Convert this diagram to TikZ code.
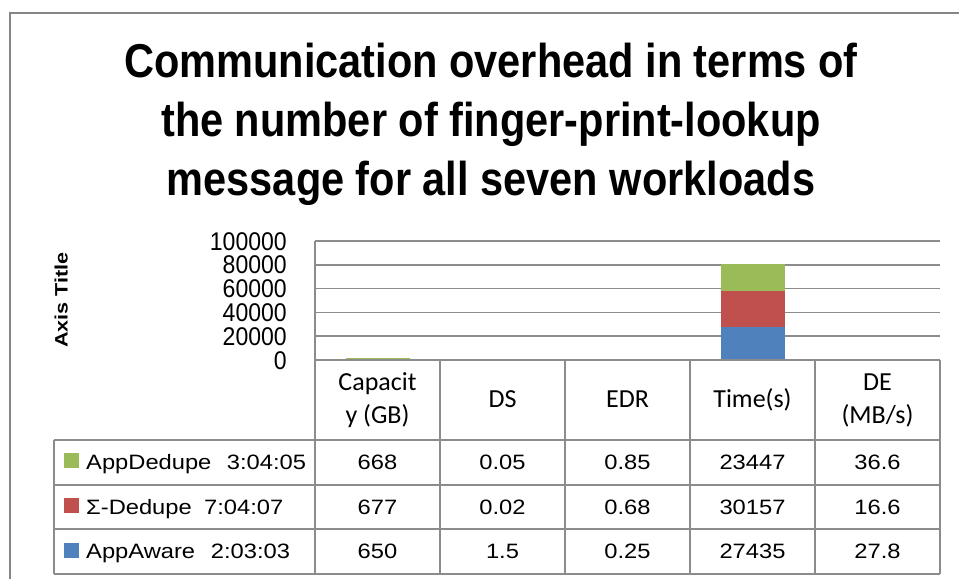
\documentclass[tikz,border=0pt]{standalone}
\usepackage{fontspec}
\setmainfont{Liberation Sans}
\newfontfamily\titlefont[FakeStretch=0.874]{Liberation Sans}
\newfontfamily\axtitlefont[FakeStretch=1.2]{Liberation Sans}
\newfontfamily\tickfont[FakeStretch=0.9]{Liberation Sans}
\newfontfamily\cellfont[FakeStretch=1.14]{Liberation Sans}
\newfontfamily\headfont{Carlito}

\definecolor{gridgray}{HTML}{8C8C8C}
\definecolor{framegray}{HTML}{868686}
\definecolor{serA}{HTML}{9BBB59}
\definecolor{serB}{HTML}{C0504D}
\definecolor{serC}{HTML}{4F81BD}

\begin{document}
\begin{tikzpicture}[x=1pt,y=-1pt,
  gridline/.style={draw=gridgray, line width=1.5pt},
  tableline/.style={draw=gridgray, line width=1.6pt},
  frameline/.style={draw=framegray, line width=2.2pt},
  titletext/.style={anchor=base, inner sep=0pt, font=\titlefont\bfseries\fontsize{47.5}{57}\selectfont},
  axtitle/.style={anchor=base, inner sep=0pt, rotate=90, font=\axtitlefont\bfseries\fontsize{18}{21}\selectfont},
  ticklbl/.style={anchor=base east, inner sep=0pt, font=\tickfont\fontsize{25.6}{30}\selectfont},
  headtext/.style={anchor=base, inner sep=0pt, font=\headfont\fontsize{26}{32}\selectfont},
  celltext/.style={anchor=base, inner sep=0pt, font=\cellfont\fontsize{20.8}{25}\selectfont},
  legtext/.style={anchor=base west, inner sep=0pt, font=\cellfont\fontsize{20.8}{25}\selectfont},
  keybox/.style={draw=none, minimum size=15pt, inner sep=0pt},
]
\useasboundingbox (0,0) rectangle (959,579);

% outer chart frame
\draw[frameline] (10,579) -- (10,12.7) -- (959,12.7);

% title
\node[titletext] (t1) at (491,77) {Communication overhead in terms of};
\node[titletext] (t2) at (491,136.5) {the number of finger-print-lookup};
\node[titletext] (t3) at (491,195) {message for all seven workloads};

% vertical axis title
\node[axtitle] (yaxis) at (67.5,300) {Axis Title};

% gridlines (20000 steps, 100000 = 119 units)
\foreach \yy in {336.2,312.4,288.6,264.8,241} {
  \draw[gridline] (315,\yy) -- (940,\yy);
}

% tick labels
\node[ticklbl] (tk100) at (287,250.15) {100000};
\node[ticklbl] (tk80)  at (287,273.95) {80000};
\node[ticklbl] (tk60)  at (287,297.75) {60000};
\node[ticklbl] (tk40)  at (287,321.55) {40000};
\node[ticklbl] (tk20)  at (287,345.35) {20000};
\node[ticklbl] (tk0)   at (287,369.15) {0};

% stacked bars: Capacity (GB)
\fill[serC] (345.5,360) rectangle (409.5,359.23);
\fill[serB] (345.5,359.23) rectangle (409.5,358.42);
\fill[serA] (345.5,358.42) rectangle (409.5,357.63);
% stacked bars: Time(s)
\fill[serC] (720.5,360) rectangle (784.5,327.35);
\fill[serB] (720.5,327.35) rectangle (784.5,291.46);
\fill[serA] (720.5,291.46) rectangle (784.5,263.56);

% value axis
\draw[gridline] (315,241) -- (315,360);

% data table: header row
\draw[tableline] (315,360) -- (940,360);
\foreach \xx in {315,440,565,690,815,940} {
  \draw[tableline] (\xx,360) -- (\xx,440);
}
% data table: body
\foreach \yy in {440,485,529,574} {
  \draw[tableline] (54,\yy) -- (940,\yy);
}
\foreach \xx in {54,315,440,565,690,815,940} {
  \draw[tableline] (\xx,440) -- (\xx,574);
}

% header texts
\node[headtext] (hcap1) at (377.5,390.7) {Capacit};
\node[headtext] (hcap2) at (377.5,423) {y (GB)};
\node[headtext] (hds)   at (502.5,407.7) {DS};
\node[headtext] (hedr)  at (627.5,407.7) {EDR};
\node[headtext] (htime) at (752.5,407.7) {Time(s)};
\node[headtext] (hde1)  at (877.5,390.7) {DE};
\node[headtext] (hde2)  at (877.5,423) {(MB/s)};

% legend keys and labels
\node[keybox, fill=serA] (kA) at (71.5,460.8) {};
\node[keybox, fill=serB] (kB) at (71.5,505.5) {};
\node[keybox, fill=serC] (kC) at (71.5,550.5) {};
\node[legtext] (lA) at (86,469.5) {AppDedupe};
\node[legtext] (lAt) at (226.7,469.5) {3:04:05};
\node[legtext] (lB) at (86,514) {Σ-Dedupe};
\node[legtext] (lBt) at (204,514) {7:04:07};
\node[legtext] (lC) at (86,558.5) {AppAware};
\node[legtext] (lCt) at (210.7,558.5) {2:03:03};

% table values
\node[celltext] (a1) at (377.5,469.5) {668};
\node[celltext] (a2) at (502.5,469.5) {0.05};
\node[celltext] (a3) at (627.5,469.5) {0.85};
\node[celltext] (a4) at (752.5,469.5) {23447};
\node[celltext] (a5) at (877.5,469.5) {36.6};

\node[celltext] (b1) at (377.5,514) {677};
\node[celltext] (b2) at (502.5,514) {0.02};
\node[celltext] (b3) at (627.5,514) {0.68};
\node[celltext] (b4) at (752.5,514) {30157};
\node[celltext] (b5) at (877.5,514) {16.6};

\node[celltext] (c1) at (377.5,558.5) {650};
\node[celltext] (c2) at (502.5,558.5) {1.5};
\node[celltext] (c3) at (627.5,558.5) {0.25};
\node[celltext] (c4) at (752.5,558.5) {27435};
\node[celltext] (c5) at (877.5,558.5) {27.8};
\end{tikzpicture}
\end{document}
